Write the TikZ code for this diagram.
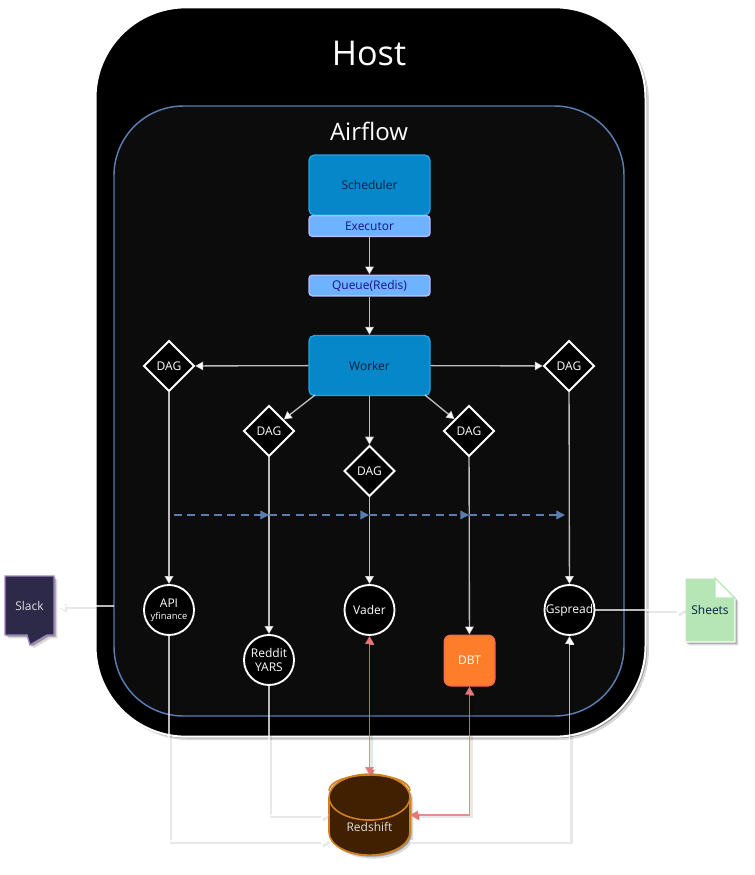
\documentclass[tikz,border=0pt]{standalone}
\usepackage{fontspec}
\setmainfont{Open Sans}
\usetikzlibrary{shapes.geometric,arrows.meta,shadows,calc}
\definecolor{innerbg}{HTML}{0C0C0C}
\definecolor{airline}{HTML}{5A7DB0}
\definecolor{blueA}{HTML}{0587C9}
\definecolor{blueAb}{HTML}{1EA5E6}
\definecolor{blueB}{HTML}{6DB3FF}
\definecolor{blueBb}{HTML}{B9B9FF}
\definecolor{ink}{HTML}{04203C}
\definecolor{inkB}{HTML}{14148A}
\definecolor{pinkw}{HTML}{E87878}
\definecolor{slackbg}{HTML}{2C2A48}
\definecolor{slackb}{HTML}{A582C8}
\definecolor{sheetbg}{HTML}{B6E6B6}
\definecolor{brownf}{HTML}{402000}
\definecolor{browns}{HTML}{D0801E}
\definecolor{dbtf}{HTML}{FE7D2A}
\definecolor{dbtb}{HTML}{FF6650}
\tikzset{
  softsh/.style={drop shadow={shadow xshift=1.2pt,shadow yshift=-1.2pt,fill=black,opacity=.3},drop shadow={shadow xshift=2.6pt,shadow yshift=-2.6pt,fill=black,opacity=.15}},
  lab/.style={inner sep=0pt,font=\fontsize{9}{11}\selectfont},
  hostbox/.style={rectangle,draw=white,line width=1.5pt,fill=black,rounded corners=68pt,softsh},
  airbox/.style={rectangle,draw=airline,line width=1.1pt,fill=innerbg,rounded corners=52pt},
  bigbox/.style={rectangle,draw=blueAb,line width=1pt,fill=blueA,rounded corners=4pt,lab,text=ink,minimum width=90.75pt,minimum height=45pt},
  smallbox/.style={rectangle,draw=blueBb,line width=1pt,fill=blueB,rounded corners=2.5pt,lab,text=inkB,minimum width=90.75pt,minimum height=15.5pt},
  dagbox/.style={diamond,draw=white,line width=1.4pt,fill=black,lab,text=white,minimum width=38pt,minimum height=38pt},
  toolc/.style={circle,draw=white,line width=1.4pt,fill=black,lab,text=white,minimum size=37.5pt},
  wireto/.style={draw=white,draw opacity=.72,line width=1pt,-{Triangle[length=6pt,width=6.5pt,fill=white]}},
  outer/.style={preaction={draw=black,draw opacity=.09,line width=2pt,transform canvas={shift={(1.5pt,-1.5pt)}}}},
  pinkto/.style={draw=pinkw,draw opacity=.85,line width=1pt,{Triangle[length=6pt,width=6.5pt,fill=pinkw]}-{Triangle[length=6pt,width=6.5pt,fill=pinkw]}},
  flowto/.style={draw=airline,line width=1.1pt,dashed,dash pattern=on 6pt off 4pt,-{Triangle[length=6.5pt,width=6.5pt,fill=airline]}},
}
\begin{document}
\begin{tikzpicture}[x=.75pt,y=-.75pt]
\useasboundingbox (0,0) rectangle (754,875);
\fill[white] (0,0) rectangle (754,875);
% containers
\node[hostbox,minimum width=412.5pt,minimum height=547pt] (host) at (370.5,372) {};
\node[airbox,minimum width=382.5pt,minimum height=457.5pt] (air) at (369,411) {};
\node[inner sep=0pt,text=white,font=\fontsize{25.6}{30}\selectfont] (hosttitle) at (369,53) {Host};
\node[inner sep=0pt,text=white,font=\fontsize{18}{22}\selectfont] (airtitle) at (369,131) {Airflow};
% core
\node[bigbox] (sched) at (369.5,185) {Scheduler};
\node[smallbox] (exec) at (369.5,226) {Executor};
\node[smallbox] (queue) at (369.5,285.5) {Queue(Redis)};
\node[bigbox] (worker) at (369.5,365.5) {Worker};
% DAGs
\node[dagbox] (d1) at (169,366) {DAG};
\node[dagbox] (d2) at (269,431) {DAG};
\node[dagbox] (d3) at (369.5,471) {DAG};
\node[dagbox] (d4) at (469,431) {DAG};
\node[dagbox] (d5) at (569,366) {DAG};
% tools
\node[toolc,align=center] (api) at (169,610) {API\\[-2pt]{\fontsize{7}{8}\selectfont yfinance}};
\node[toolc,align=center] (reddit) at (269,660) {Reddit\\[-1pt]YARS};
\node[toolc] (vader) at (369.5,610) {Vader};
\node[toolc] (gspread) at (569.5,610) {Gspread};
\node[rectangle,draw=dbtb,line width=1pt,fill=dbtf,rounded corners=5pt,lab,text=white,minimum width=38pt,minimum height=38pt] (dbt) at (469.5,660.5) {DBT};
% outside shapes
\node[cylinder,shape border rotate=90,aspect=1.0,draw=browns,line width=1.2pt,fill=brownf,lab,text=white!85!brownf,minimum width=60.75pt,minimum height=60.75pt,softsh] (rs) at (369.5,826.5) {Redshift};
\draw[draw=browns,line width=1.2pt] (329,790.5) arc[start angle=180,end angle=360,x radius=40.5,y radius=15.5];
\draw[draw=slackb,line width=1pt,fill=slackbg,softsh] (5,576) -- (54,576) -- (54,635) -- (47,635) -- (30,645) -- (27,635) -- (5,635) -- cycle;
\node[lab,text=white!85!slackbg,minimum width=36pt,minimum height=44pt] (slack) at (29.5,605.5) {Slack};
\draw[draw=white,line width=.8pt,fill=sheetbg,softsh] (685,578) -- (715,578) -- (735,598) -- (735,642) -- (685,642) -- cycle;
\draw[draw=sheetbg,line width=.8pt,fill=white] (715,578) -- (715,598) -- (735,598) -- cycle;
\node[lab,text=ink,minimum width=37.5pt,minimum height=48pt] (sheets) at (710,610) {Sheets};
% free ends
\coordinate (rsa) at (329,815);
\coordinate (rsb) at (329,841);
\coordinate (rsc) at (410,815);
\coordinate (rsd) at (410,841);
\coordinate (rst) at (369.5,775);
\coordinate (f0) at (174,515);
\coordinate (f1) at (269,515);
\coordinate (f2) at (369,515);
\coordinate (f3) at (469,515);
\coordinate (f4) at (565,515);
\coordinate (airw) at (114,606);
\coordinate (slackin) at (57,606);
\coordinate (wsw) at (315,395);
\coordinate (wse) at (425,395);
% core connectors
\draw[wireto] (exec) -- (queue);
\draw[wireto] (queue) -- (worker);
\draw[wireto] (worker) -- (d1);
\draw[wireto] (worker) -- (d5);
\draw[wireto] (wsw) -- (d2);
\draw[wireto] (worker) -- (d3);
\draw[wireto] (wse) -- (d4);
\draw[wireto] (d1) -- (api);
\draw[wireto] (d2) -- (reddit);
\draw[wireto] (d3) -- (vader);
\draw[wireto] (d4) -- (dbt);
\draw[wireto] (d5) -- (gspread);
% flow
\draw[flowto] (f0) -- (f1);
\draw[flowto] (f1) -- (f2);
\draw[flowto] (f2) -- (f3);
\draw[flowto] (f3) -- (f4);
% data connectors
\draw[wireto,outer] (airw) -- (slackin);
\draw[wireto,outer] (gspread) -- (sheets);
\draw[wireto,outer] (api.south) |- (rsb);
\draw[wireto,outer] (reddit.south) |- (rsa);
\draw[wireto,outer] (rsd) -| (gspread.south);
\draw[pinkto,outer] (vader.south) -- (rst);
\draw[pinkto,outer] (dbt.south) |- (rsc);
\end{tikzpicture}
\end{document}
